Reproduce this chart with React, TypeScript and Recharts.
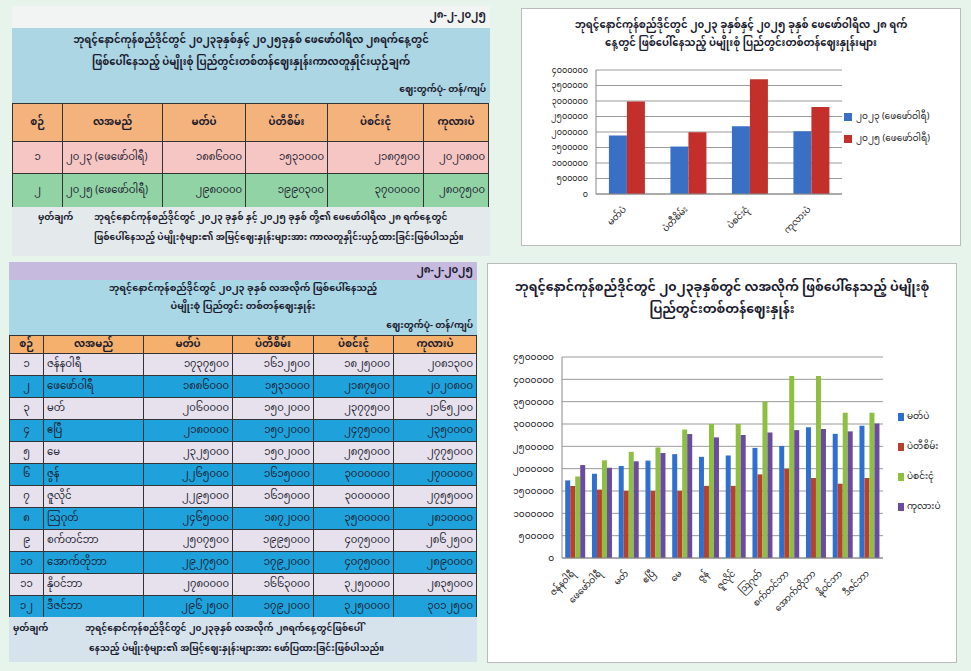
import React from 'react';
import { BarChart, Bar, XAxis, YAxis, CartesianGrid } from 'recharts';

// pulses compared in Feb 2023 vs Feb 2025 (kyat per ton)
const pulses = ['မတ်ပဲ', 'ပဲတီစိမ်း', 'ပဲစင်းငုံ', 'ကုလားပဲ'];
const periods = ['၂၀၂၃ (ဖေဖော်ဝါရီ)', '၂၀၂၅ (ဖေဖော်ဝါရီ)'];
const feb2023 = [1886000, 1531000, 2187500, 2020800];
const feb2025 = [2980000, 1990300, 3700000, 2807500];
const febTicks = [0, 500000, 1000000, 1500000, 2000000, 2500000, 3000000, 3500000, 4000000];

// monthly prices for 2023
const months = ['ဇန်နဝါရီ', 'ဖေဖော်ဝါရီ', 'မတ်', 'ဧပြီ', 'မေ', 'ဇွန်', 'ဇူလိုင်', 'ဩဂုတ်', 'စက်တင်ဘာ', 'အောက်တိုဘာ', 'နိုဝင်ဘာ', 'ဒီဇင်ဘာ'];
const blackGram = [1737500, 1886000, 2060000, 2180000, 2325000, 2265000, 2295000, 2465000, 2507500, 2927500, 2780000, 2962500];
const greenGram = [1612500, 1531000, 1502000, 1502000, 1502000, 1615000, 1615000, 1872000, 1995000, 1792000, 1663000, 1792000];
const pigeonPea = [1825000, 2187500, 2377500, 2475000, 2875000, 3000000, 3000000, 3500000, 4075000, 4075000, 3250000, 3250000];
const chickpea = [2081300, 2020800, 2165200, 2350000, 2775000, 2700000, 2755000, 2810000, 2862500, 2890000, 2835000, 3012500];
const monthTicks = [0, 500000, 1000000, 1500000, 2000000, 2500000, 3000000, 3500000, 4000000, 4500000];

const FONT = "'Noto Sans Myanmar', 'Myanmar Text', Padauk, 'Noto Sans', sans-serif";
const mm = (v: number | string) => String(v).replace(/[0-9]/g, (d) => String.fromCharCode(0x1040 + Number(d)));

const febData = pulses.map((p, i) => ({ name: p, a: feb2023[i], b: feb2025[i] }));
const monthData = months.map((m, i) => ({
  name: m,
  black: blackGram[i],
  green: greenGram[i],
  pigeon: pigeonPea[i],
  chick: chickpea[i],
}));

const topColors = ['#3a6fc6', '#c3302c'];
const bottomColors = ['#2f6fcf', '#b8402f', '#8dbf40', '#6a4ba0'];

const SlantTick = (props: any) => {
  const { x, y, payload, fs } = props;
  return (
    <text x={x} y={y + 8} transform={`rotate(-45 ${x} ${y + 8})`} textAnchor="end" fontSize={fs} fill="#222" fontFamily={FONT}>
      {payload.value}
    </text>
  );
};

const cell: React.CSSProperties = { border: '1px solid #333', padding: '0 3px', whiteSpace: 'nowrap', lineHeight: '14px' };
const line: React.CSSProperties = { position: 'absolute', left: 0, right: 0, whiteSpace: 'nowrap' };

function TopTable() {
  const widths = [50, 100, 83, 82, 96, 65];
  const rows = [
    { bg: '#f5c6c4', vals: feb2023 },
    { bg: '#92d3a6', vals: feb2025 },
  ];
  return (
    <div style={{ position: 'absolute', left: 12, top: 6, width: 478, height: 250, fontFamily: FONT, color: '#1b1b2e' }}>
      <div style={{ position: 'absolute', left: 0, top: 0, width: 478, height: 22, background: '#f2f4f3' }}>
        <div style={{ position: 'absolute', right: 4, top: 2, fontSize: 10, fontWeight: 700, lineHeight: '16px' }}>{mm('28-2-2025')}</div>
      </div>
      <div style={{ position: 'absolute', left: 0, top: 22, width: 478, height: 75, background: '#acd6e4', textAlign: 'center', fontSize: 10, fontWeight: 700, lineHeight: '16px' }}>
        <div style={{ ...line, top: 5 }}>ဘုရင့်နောင်ကုန်စည်ဒိုင်တွင် ၂၀၂၃ခုနှစ်နှင့် ၂၀၂၅ခုနှစ် ဖေဖော်ဝါရီလ ၂၈ရက်နေ့တွင်</div>
        <div style={{ ...line, top: 27 }}>ဖြစ်ပေါ်နေသည့် ပဲမျိုးစုံ ပြည်တွင်းတစ်တန်ဈေးနှုန်းကာလတူနှိုင်းယှဉ်ချက်</div>
        <div style={{ position: 'absolute', right: 4, top: 55, fontSize: 9, lineHeight: '14px' }}>ဈေးတွက်ပုံ- တန်/ကျပ်</div>
      </div>
      <table style={{ position: 'absolute', left: 0, top: 97, borderCollapse: 'collapse', tableLayout: 'fixed', fontSize: 10, width: 476 }}>
        <colgroup>
          {widths.map((w, i) => (
            <col key={i} style={{ width: w }} />
          ))}
        </colgroup>
        <tbody>
          <tr style={{ height: 38, background: '#f4b27c', fontWeight: 700, textAlign: 'center' }}>
            <td style={cell}>စဉ်</td>
            <td style={cell}>လအမည်</td>
            {pulses.map((p) => (
              <td key={p} style={cell}>{p}</td>
            ))}
          </tr>
          {rows.map((r, i) => (
            <tr key={i} style={{ height: i === 0 ? 32 : 34, background: r.bg }}>
              <td style={{ ...cell, textAlign: 'center' }}>{mm(i + 1)}</td>
              <td style={{ ...cell, textAlign: 'left' }}>{periods[i]}</td>
              {r.vals.map((v, j) => (
                <td key={j} style={{ ...cell, textAlign: 'right' }}>{mm(v)}</td>
              ))}
            </tr>
          ))}
        </tbody>
      </table>
      <div style={{ position: 'absolute', left: 0, top: 201, width: 478, height: 49, background: '#e4eaec', fontSize: 9, fontWeight: 700, lineHeight: '14px' }}>
        <div style={{ position: 'absolute', left: 26, top: 4 }}>မှတ်ချက်</div>
        <div style={{ position: 'absolute', left: 82, top: 4, right: 2, whiteSpace: 'nowrap' }}>
          ဘုရင့်နောင်ကုန်စည်ဒိုင်တွင် ၂၀၂၃ ခုနှစ် နှင့် ၂၀၂၅ ခုနှစ် တို့၏ ဖေဖော်ဝါရီလ ၂၈ ရက်နေ့တွင်
        </div>
        <div style={{ position: 'absolute', left: 82, top: 24, right: 2, whiteSpace: 'nowrap' }}>
          ဖြစ်ပေါ်နေသည့် ပဲမျိုးစုံများ၏ အမြင့်ဈေးနှုန်းများအား ကာလတူနှိုင်းယှဉ်ထားခြင်းဖြစ်ပါသည်။
        </div>
      </div>
    </div>
  );
}

function BottomTable() {
  const widths = [34, 100, 89, 81, 80, 83];
  return (
    <div style={{ position: 'absolute', left: 9, top: 262, width: 468, height: 400, fontFamily: FONT, color: '#1b1b2e' }}>
      <div style={{ position: 'absolute', left: 0, top: 0, width: 468, height: 18, background: '#c7badf' }}>
        <div style={{ position: 'absolute', right: 4, top: 1, fontSize: 10, fontWeight: 700, lineHeight: '16px' }}>{mm('28-2-2025')}</div>
      </div>
      <div style={{ position: 'absolute', left: 0, top: 18, width: 468, height: 55, background: '#a9d7e6', textAlign: 'center', fontSize: 9.5, fontWeight: 700, lineHeight: '15px' }}>
        <div style={{ ...line, top: 1 }}>ဘုရင့်နောင်ကုန်စည်ဒိုင်တွင် ၂၀၂၃ ခုနှစ် လအလိုက် ဖြစ်ပေါ်နေသည့်</div>
        <div style={{ ...line, top: 19 }}>ပဲမျိုးစုံ ပြည်တွင်း တစ်တန်ဈေးနှုန်း</div>
        <div style={{ position: 'absolute', right: 4, top: 39, fontSize: 9, lineHeight: '14px' }}>ဈေးတွက်ပုံ- တန်/ကျပ်</div>
      </div>
      <table style={{ position: 'absolute', left: 0, top: 73, borderCollapse: 'collapse', tableLayout: 'fixed', fontSize: 10, width: 467 }}>
        <colgroup>
          {widths.map((w, i) => (
            <col key={i} style={{ width: w }} />
          ))}
        </colgroup>
        <tbody>
          <tr style={{ height: 18, background: '#f4b06c', fontWeight: 700, textAlign: 'center' }}>
            <td style={cell}>စဉ်</td>
            <td style={cell}>လအမည်</td>
            {pulses.map((p) => (
              <td key={p} style={cell}>{p}</td>
            ))}
          </tr>
          {months.map((m, i) => (
            <tr key={m} style={{ height: 22, background: i % 2 === 0 ? '#e6e1ec' : '#1fa2dc' }}>
              <td style={{ ...cell, textAlign: 'center' }}>{mm(i + 1)}</td>
              <td style={{ ...cell, textAlign: 'left' }}>{m}</td>
              <td style={{ ...cell, textAlign: 'right' }}>{mm(blackGram[i])}</td>
              <td style={{ ...cell, textAlign: 'right' }}>{mm(greenGram[i])}</td>
              <td style={{ ...cell, textAlign: 'right' }}>{mm(pigeonPea[i])}</td>
              <td style={{ ...cell, textAlign: 'right' }}>{mm(chickpea[i])}</td>
            </tr>
          ))}
        </tbody>
      </table>
      <div style={{ position: 'absolute', left: 0, top: 355, width: 468, height: 45, background: '#d6e3ec', fontSize: 9, fontWeight: 700, lineHeight: '14px' }}>
        <div style={{ position: 'absolute', left: 4, top: 5 }}>မှတ်ချက်</div>
        <div style={{ position: 'absolute', left: 76, top: 5, right: 2, whiteSpace: 'nowrap' }}>
          ဘုရင့်နောင်ကုန်စည်ဒိုင်တွင် ၂၀၂၃ခုနှစ် လအလိုက် ၂၈ရက်နေ့တွင်ဖြစ်ပေါ်
        </div>
        <div style={{ position: 'absolute', left: 80, top: 25, right: 2, whiteSpace: 'nowrap' }}>
          နေသည့် ပဲမျိုးစုံများ၏ အမြင့်ဈေးနှုန်းများအား ဖော်ပြထားခြင်းဖြစ်ပါသည်။
        </div>
      </div>
    </div>
  );
}

function FebChart() {
  return (
    <div style={{ position: 'absolute', left: 521, top: 8, width: 440, height: 238, background: '#fff', border: '1px solid #bbb', boxSizing: 'border-box', fontFamily: FONT }}>
      <div style={{ position: 'absolute', left: 0, right: 0, top: 8, textAlign: 'center', fontSize: 10, fontWeight: 700, color: '#1b1b2e', lineHeight: '18px' }}>
        <div style={{ whiteSpace: 'nowrap' }}>ဘုရင့်နောင်ကုန်စည်ဒိုင်တွင် ၂၀၂၃ ခုနှစ်နှင့် ၂၀၂၅ ခုနှစ် ဖေဖော်ဝါရီလ ၂၈ ရက်</div>
        <div style={{ whiteSpace: 'nowrap' }}>နေ့တွင် ဖြစ်ပေါ်နေသည့် ပဲမျိုးစုံ ပြည်တွင်းတစ်တန်ဈေးနှုန်းများ</div>
      </div>
      <BarChart width={438} height={236} data={febData} margin={{ top: 61, right: 118, bottom: 0, left: 5 }} barCategoryGap="21%" barGap={0}>
        <CartesianGrid vertical={false} stroke="#9a9a9a" />
        <XAxis dataKey="name" interval={0} axisLine={{ stroke: '#888' }} tickLine={false} tick={<SlantTick fs={9} />} height={51} />
        <YAxis domain={[0, 4000000]} ticks={febTicks} interval={0} width={69} axisLine={{ stroke: '#888' }} tickLine={false} tickFormatter={(v) => mm(v)} tick={{ fontSize: 8, fill: '#222', fontFamily: FONT }} />
        <Bar dataKey="a" fill={topColors[0]} isAnimationActive={false} />
        <Bar dataKey="b" fill={topColors[1]} isAnimationActive={false} />
      </BarChart>
      <div style={{ position: 'absolute', left: 322, top: 97, fontSize: 9, color: '#222' }}>
        {periods.map((p, i) => (
          <div key={p} style={{ display: 'flex', alignItems: 'center', height: 22 }}>
            <span style={{ width: 8, height: 8, background: topColors[i], marginRight: 4, display: 'inline-block' }} />
            {p}
          </div>
        ))}
      </div>
    </div>
  );
}

function MonthChart() {
  const keys = ['black', 'green', 'pigeon', 'chick'];
  return (
    <div style={{ position: 'absolute', left: 487, top: 263, width: 470, height: 400, background: '#fff', border: '1px solid #bbb', boxSizing: 'border-box', fontFamily: FONT }}>
      <div style={{ position: 'absolute', left: 0, right: 0, top: 13, textAlign: 'center', fontSize: 12.5, fontWeight: 700, color: '#1b1b2e', lineHeight: '22px' }}>
        <div style={{ whiteSpace: 'nowrap' }}>ဘုရင့်နောင်ကုန်စည်ဒိုင်တွင် ၂၀၂၃ခုနှစ်တွင် လအလိုက် ဖြစ်ပေါ်နေသည့် ပဲမျိုးစုံ</div>
        <div style={{ whiteSpace: 'nowrap' }}>ပြည်တွင်းတစ်တန်ဈေးနှုန်း</div>
      </div>
      <BarChart width={468} height={398} data={monthData} margin={{ top: 93, right: 73, bottom: 0, left: 5 }} barCategoryGap="12%" barGap={0}>
        <CartesianGrid vertical={false} stroke="#9a9a9a" />
        <XAxis dataKey="name" interval={0} axisLine={{ stroke: '#888' }} tickLine={false} tick={<SlantTick fs={9} />} height={104} />
        <YAxis domain={[0, 4500000]} ticks={monthTicks} interval={0} width={69} axisLine={{ stroke: '#888' }} tickLine={false} tickFormatter={(v) => mm(v)} tick={{ fontSize: 9, fill: '#222', fontFamily: FONT }} />
        {keys.map((k, i) => (
          <Bar key={k} dataKey={k} fill={bottomColors[i]} isAnimationActive={false} />
        ))}
      </BarChart>
      <div style={{ position: 'absolute', left: 410, top: 138, fontSize: 9, color: '#222' }}>
        {pulses.map((p, i) => (
          <div key={p} style={{ display: 'flex', alignItems: 'center', height: 30 }}>
            <span style={{ width: 6, height: 8, background: bottomColors[i], marginRight: 3, display: 'inline-block' }} />
            {p}
          </div>
        ))}
      </div>
    </div>
  );
}

export default function App() {
  return (
    <div style={{ position: 'absolute', left: 0, top: 0, width: 971, height: 671, background: '#e7f4ec', overflow: 'hidden' }}>
      <TopTable />
      <FebChart />
      <BottomTable />
      <MonthChart />
    </div>
  );
}
